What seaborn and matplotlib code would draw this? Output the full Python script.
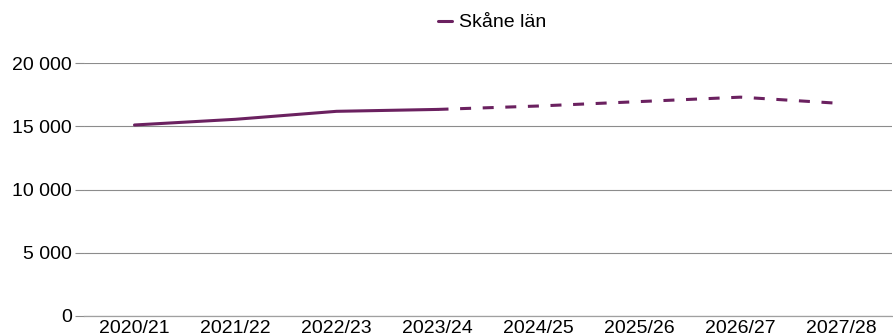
import pandas as pd
import matplotlib
matplotlib.use("Agg")
import matplotlib.pyplot as plt
import seaborn as sns

# data
years = ["2020/21", "2021/22", "2022/23", "2023/24",
         "2024/25", "2025/26", "2026/27", "2027/28"]
values = [15100, 15550, 16180, 16330, 16600, 16950, 17300, 16800]
last_actual = "2023/24"
series_name = "Skåne län"

df = pd.DataFrame({"year": years, "value": values})
df["pos"] = range(len(df))
split = years.index(last_actual)
actual = df.iloc[: split + 1]
forecast = df.iloc[split:]

sns.set_theme(style="white")
plt.rcParams["font.family"] = ["Liberation Sans", "DejaVu Sans"]
plt.rcParams["text.color"] = "black"

color = "#6b2160"
grid_color = "#8c8c8c"

fig = plt.figure(figsize=(8.93, 3.33), dpi=100)
ax = fig.add_axes([84 / 893, 17 / 333, 808 / 893, 253 / 333])

sns.lineplot(data=actual, x="pos", y="value", ax=ax, color=color,
             linewidth=2.2, label=series_name)
sns.lineplot(data=forecast, x="pos", y="value", ax=ax, color=color,
             linewidth=2.2, linestyle=(0, (3.6, 3.8)))

ax.set_xlim(-0.5, len(years) - 0.5)
ax.set_ylim(0, 20000)
ax.set_xticks(df["pos"], years)
ax.set_yticks(range(0, 20001, 5000))
ax.yaxis.set_major_formatter(
    matplotlib.ticker.FuncFormatter(lambda v, _: f"{v:,.0f}".replace(",", " ")))
ax.set_xlabel("")
ax.set_ylabel("")

ax.grid(axis="y", color=grid_color, linewidth=0.8)
ax.grid(axis="x", visible=False)
for side in ["top", "right", "left"]:
    ax.spines[side].set_visible(False)
ax.spines["bottom"].set_color("#a0a0a0")
ax.spines["bottom"].set_linewidth(0.9)

ax.tick_params(axis="y", length=6.5, width=0.8, color=grid_color, pad=2,
               labelsize=14, labelcolor="black", left=True)
ax.tick_params(axis="x", length=0, pad=3, labelsize=14, labelcolor="black")

leg = ax.legend(loc="center", bbox_to_anchor=(0.505, 1.16), frameon=False,
                fontsize=14, handlelength=0.72, handletextpad=0.35)
for t in leg.get_texts():
    t.set_color("black")

fig.savefig("out.png", dpi=100)
